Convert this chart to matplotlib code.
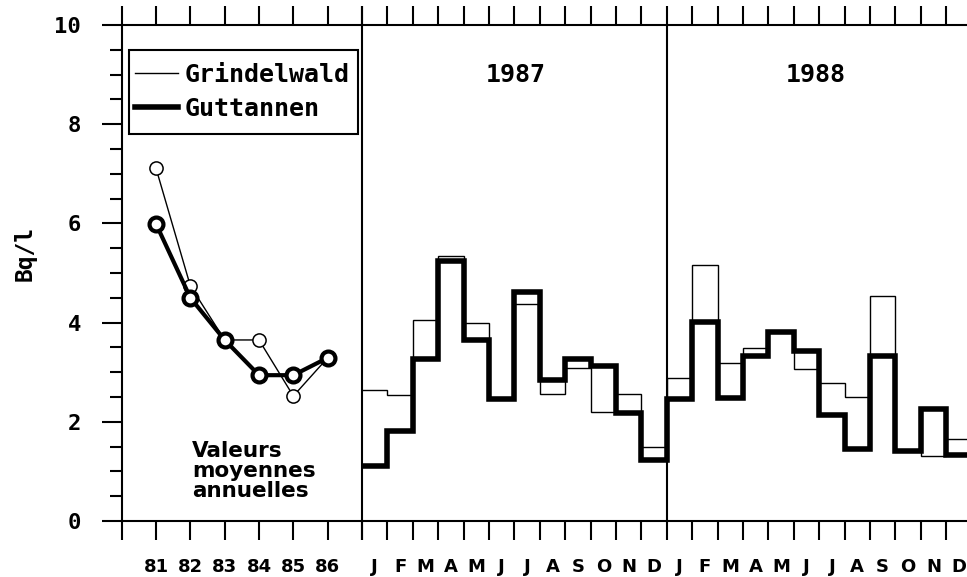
import matplotlib
matplotlib.use("Agg")
import matplotlib.pyplot as plt
import numpy as np
from matplotlib.patches import Rectangle
from matplotlib.ticker import MultipleLocator

# annual means 1981-1986 (Bq/l)
years = [81, 82, 83, 84, 85, 86]
annual_grindelwald = [7.11, 4.74, 3.65, 3.65, 2.52, 3.29]
annual_guttannen = [5.99, 4.50, 3.65, 2.94, 2.94, 3.29]

# monthly values, Jan 1987 .. Dec 1988
months = list("JFMAMJJASOND") * 2
monthly_grindelwald = [2.65, 2.55, 4.05, 5.35, 3.99, 2.45, 4.37, 2.57, 3.08, 2.19, 2.57, 1.50,
                       2.88, 5.16, 3.18, 3.48, 3.82, 3.06, 2.78, 2.51, 4.54, 1.43, 1.31, 1.65]
monthly_guttannen = [1.11, 1.82, 3.26, 5.25, 3.65, 2.45, 4.62, 2.84, 3.27, 3.13, 2.17, 1.23,
                     2.46, 4.02, 2.47, 3.33, 3.81, 3.43, 2.14, 1.45, 3.33, 1.42, 2.25, 1.33]
year_labels = ["1987", "1988"]

MONO = "DejaVu Sans Mono"
SANS = "DejaVu Sans"

W, H = 967, 577
fig = plt.figure(figsize=(W / 100, H / 100), dpi=100)
fig.patch.set_facecolor("white")

bottom = 56 / H
height = 496 / H
ax_l = fig.add_axes([121.7 / W, bottom, 240.3 / W, height])
ax_r = fig.add_axes([362 / W, bottom, 24 * 25.4 / W, height])
ax_r.patch.set_visible(False)

# ---- left panel: annual means
ax_l.plot(years, annual_grindelwald, color="black", lw=1.0, marker="o", ms=9.5,
          mfc="white", mec="black", mew=1.1, zorder=3)
ax_l.plot(years, annual_guttannen, color="black", lw=3.0, marker="o", ms=10,
          mfc="white", mec="black", mew=3.0, zorder=4)
ax_l.set_xlim(80, 87)
ax_l.set_ylim(0, 10)
ax_l.set_xticks(np.arange(80, 88))
ax_l.set_xticklabels([""] + [str(y) for y in years] + [""])
ax_l.yaxis.set_major_locator(MultipleLocator(2))
ax_l.yaxis.set_minor_locator(MultipleLocator(0.5))
ax_l.tick_params(axis="y", which="major", direction="out", length=14.4, width=1.5,
                 pad=15, labelsize=16)
ax_l.tick_params(axis="y", which="minor", direction="out", length=8.6, width=1.5)
ax_l.tick_params(axis="x", which="major", direction="out", length=13.5, width=1.5,
                 top=True, pad=13, labelsize=13)
for lab in ax_l.get_xticklabels():
    lab.set_fontfamily(SANS)
    lab.set_fontweight("bold")
for lab in ax_l.get_yticklabels():
    lab.set_fontfamily(MONO)
    lab.set_fontweight("bold")
for side in ["left", "bottom", "top", "right"]:
    ax_l.spines[side].set_linewidth(1.5)
ax_l.set_ylabel("Bq/l", fontsize=16.5, fontfamily=MONO, fontweight="bold")
ax_l.yaxis.set_label_coords(-0.355, 0.54)

ax_l.text(82.05, 1.0, "Valeurs\nmoyennes\nannuelles", ha="left", va="center",
          fontsize=15.5, fontfamily=SANS, fontweight="bold", linespacing=1.0)

# ---- right panel: monthly values
edges = np.arange(len(months) + 1)
ax_r.stairs(monthly_guttannen, edges, baseline=None, color="black",
            lw=4.0, joinstyle="miter", zorder=2)
ax_r.stairs(monthly_grindelwald, edges, baseline=None, color="black",
            lw=1.0, joinstyle="miter", zorder=3)
ax_r.axvline(12, color="black", lw=1.5)
ax_r.set_xlim(0, 24)
ax_r.set_ylim(0, 10)
ax_r.set_yticks([])
ax_r.set_xticks(edges)
ax_r.set_xticklabels([])
ax_r.set_xticks(np.arange(len(months)) + 0.5, minor=True)
ax_r.set_xticklabels(months, minor=True, fontsize=13, fontfamily=SANS, fontweight="bold")
ax_r.tick_params(axis="x", which="major", direction="out", length=13.5, width=1.5, top=True)
ax_r.tick_params(axis="x", which="minor", length=0, pad=27)
ax_r.spines["left"].set_visible(False)
ax_r.spines["right"].set_visible(False)
for side in ["bottom", "top"]:
    ax_r.spines[side].set_linewidth(1.5)

for xpos, lab in zip([6.05, 17.85], year_labels):
    ax_r.text(xpos, 9.0, lab, ha="center", va="center", fontsize=18,
              fontfamily=MONO, fontweight="bold")

# legend: plain lines, frame drawn separately (taller than wide padding)
h_gri = plt.Line2D([], [], color="black", lw=1.0)
h_gut = plt.Line2D([], [], color="black", lw=4.0)
ax_l.legend([h_gri, h_gut], ["Grindelwald", "Guttannen"], loc="upper left",
            bbox_to_anchor=(0.026, 0.9395), borderaxespad=0, frameon=False,
            handlelength=1.7, handletextpad=0.25, borderpad=0.3, labelspacing=0.41,
            prop={"family": MONO, "weight": "bold", "size": 18})
ax_l.add_patch(Rectangle((0.0304, 0.780), 0.953, 0.1696, transform=ax_l.transAxes,
                         fill=False, edgecolor="black", lw=1.5, zorder=5))

fig.savefig("out.png", dpi=100)
